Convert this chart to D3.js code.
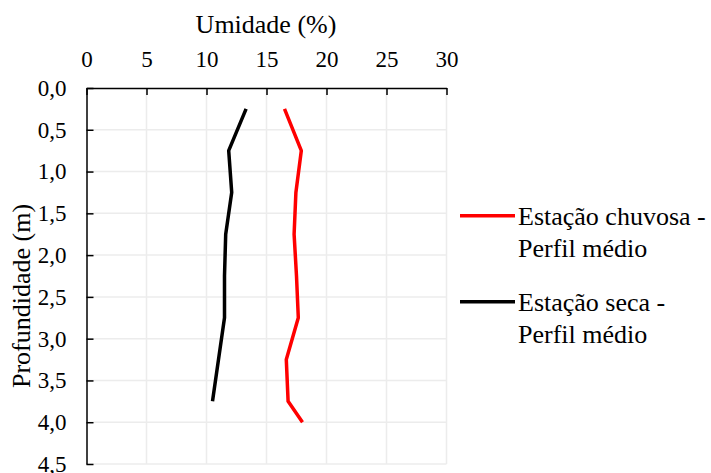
<!DOCTYPE html>
<html>
<head>
<meta charset="utf-8">
<script src="https://cdn.jsdelivr.net/npm/d3@7"></script>
<style>
  body { margin: 0; background: #fff; }
</style>
</head>
<body>
<div id="chart"></div>
<script>
// depths (m) and moisture (%)
var depthChuvosa = [0.25, 0.75, 1.25, 1.75, 2.25, 2.75, 3.25, 3.75, 4.0];
var umidChuvosa  = [16.5, 17.9, 17.45, 17.3, 17.5, 17.65, 16.65, 16.8, 18.0];
var depthSeca = [0.25, 0.75, 1.25, 1.75, 2.25, 2.75, 3.25, 3.75];
var umidSeca  = [13.3, 11.85, 12.1, 11.6, 11.5, 11.5, 11.0, 10.5];
var xTicks = [0, 5, 10, 15, 20, 25, 30];
var yTicks = [0, 0.5, 1, 1.5, 2, 2.5, 3, 3.5, 4, 4.5];
var seriesNames = [['Estação chuvosa -', 'Perfil médio'], ['Estação seca -', 'Perfil médio']];
var seriesColors = ['#ff0000', '#000000'];

var FONT = 'Liberation Serif';

var svg = d3.select('#chart')
  .append('svg')
    .attr('width', 711)
    .attr('height', 473);

var x = d3.scaleLinear().domain([0, 30]).range([86.5, 446.5]);
var y = d3.scaleLinear().domain([0, 4.5]).range([88, 464]);

// grid
svg.append('g')
  .selectAll('line.vg')
  .data(xTicks.slice(1))
  .enter()
    .append('line')
      .attr('x1', function(d) { return x(d); })
      .attr('x2', function(d) { return x(d); })
      .attr('y1', y(0))
      .attr('y2', y(4.5))
      .attr('stroke', '#ececec')
      .attr('stroke-width', 1.5);

svg.append('g')
  .selectAll('line.hg')
  .data(yTicks.slice(1))
  .enter()
    .append('line')
      .attr('x1', x(0))
      .attr('x2', x(30))
      .attr('y1', function(d) { return y(d); })
      .attr('y2', function(d) { return y(d); })
      .attr('stroke', '#ececec')
      .attr('stroke-width', 1.5);

// axes
var xAxis = d3.axisTop(x).tickValues(xTicks).tickSizeInner(-7).tickSizeOuter(0).tickPadding(21);
var gx = svg.append('g')
  .attr('transform', 'translate(0,' + y(0) + ')')
  .call(xAxis);
gx.select('.domain').attr('stroke', '#000').attr('stroke-width', 1.5);
gx.selectAll('.tick line').attr('stroke', '#000').attr('stroke-width', 1.5);
gx.selectAll('.tick text')
  .style('font-family', FONT)
  .style('font-size', '23px');

var fmt = function(d) { return d3.format('.1f')(d).replace('.', ','); };
var yAxis = d3.axisLeft(y).tickValues(yTicks).tickFormat(fmt).tickSizeInner(-7).tickSizeOuter(0).tickPadding(20);
var gy = svg.append('g')
  .attr('transform', 'translate(' + x(0) + ',0)')
  .call(yAxis);
gy.select('.domain').attr('stroke', '#000').attr('stroke-width', 1.5);
gy.selectAll('.tick line').attr('stroke', '#000').attr('stroke-width', 1.5);
gy.selectAll('.tick text')
  .style('font-family', FONT)
  .style('font-size', '23px');

// titles
svg.append('text')
  .attr('x', 266)
  .attr('y', 33)
  .attr('text-anchor', 'middle')
  .style('font-family', FONT)
  .style('font-size', '26px')
  .text('Umidade (%)');

svg.append('text')
  .attr('transform', 'translate(30,296) rotate(-90)')
  .attr('text-anchor', 'middle')
  .style('font-family', FONT)
  .style('font-size', '26px')
  .text('Profundidade (m)');

// series
var line = d3.line()
  .x(function(d) { return x(d[0]); })
  .y(function(d) { return y(d[1]); });

var series = [
  d3.zip(umidChuvosa, depthChuvosa),
  d3.zip(umidSeca, depthSeca)
];

svg.append('g')
  .selectAll('path.serie')
  .data(series)
  .enter()
    .append('path')
      .attr('class', 'serie')
      .attr('d', line)
      .attr('fill', 'none')
      .attr('stroke', function(d, i) { return seriesColors[i]; })
      .attr('stroke-width', 3.5)
      .attr('stroke-linejoin', 'round');

// legend
var leg = svg.append('g')
  .selectAll('g')
  .data(seriesNames)
  .enter()
    .append('g')
      .attr('transform', function(d, i) { return 'translate(0,' + (215.7 + i * 86) + ')'; });

leg.append('line')
  .attr('x1', 460)
  .attr('x2', 515)
  .attr('stroke', function(d, i) { return seriesColors[i]; })
  .attr('stroke-width', 3.5);

leg.append('text')
  .attr('x', 518)
  .attr('y', 9)
  .style('font-family', FONT)
  .style('font-size', '26px')
  .text(function(d) { return d[0]; });

leg.append('text')
  .attr('x', 518)
  .attr('y', 41)
  .style('font-family', FONT)
  .style('font-size', '26px')
  .text(function(d) { return d[1]; });
</script>
</body>
</html>
